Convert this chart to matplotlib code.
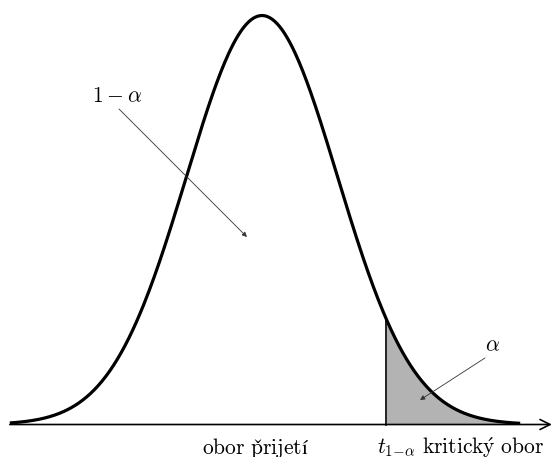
import numpy as np
import matplotlib.pyplot as plt

plt.rcParams['mathtext.fontset'] = 'cm'
plt.rcParams['font.family'] = ['cmr10', 'STIXGeneral']

# standard normal density, right tail critical value
z_lo, z_hi = -3.34, 3.42
z_crit = 1.645
lbl_accept = r'$\mathrm{obor\ p\check{r}ijetí}$'
lbl_crit = r'$\mathrm{kritick\acute{y}\ obor}$'
lbl_inner = r'$1-\alpha$'
lbl_tail = r'$\alpha$'
lbl_t = r'$t_{1\!-\!\alpha}$'


def pdf(z):
    return np.exp(-z**2 / 2) / np.sqrt(2 * np.pi)


z = np.linspace(z_lo, z_hi, 400)
zt = np.linspace(z_crit, z_hi, 200)

fig = plt.figure(figsize=(5.54, 4.57), dpi=100)
ax = fig.add_axes([0, 0, 1, 1])
ax.set_xlim(-3.470, 3.868)
ax.set_ylim(-0.0317, 0.4141)
ax.axis('off')

ax.fill_between(zt, 0, pdf(zt), color='#b3b3b3', lw=0)
ax.plot([z_crit, z_crit], [0, pdf(z_crit)], color='black', lw=1.2)
ax.plot(z, pdf(z), color='black', lw=2.3, solid_capstyle='butt')

# horizontal axis with arrow
ax.annotate('', xy=(3.84, 0), xytext=(z_lo, 0),
            arrowprops=dict(arrowstyle='->', lw=1.2, color='black',
                            mutation_scale=18, shrinkA=0, shrinkB=0))

fs = 15.5
ax.text(-0.093, -0.0285, lbl_accept, ha='center', va='baseline', fontsize=fs)
ax.text(1.523, -0.0285, lbl_t, ha='left', va='baseline', fontsize=fs)
ax.text(2.119, -0.0285, lbl_crit, ha='left', va='baseline', fontsize=fs)

ax.text(-1.92, 0.320, lbl_inner, ha='center', va='center', fontsize=fs)
ax.annotate('', xy=(-0.199, 0.1829), xytext=(-1.894, 0.3078),
            arrowprops=dict(arrowstyle='-|>', lw=0.6, color='#333333',
                            mutation_scale=7, shrinkA=0, shrinkB=0))

ax.text(3.06, 0.0776, lbl_tail, ha='center', va='center', fontsize=fs)
ax.annotate('', xy=(2.093, 0.0239), xytext=(2.954, 0.0649),
            arrowprops=dict(arrowstyle='-|>', lw=0.6, color='#333333',
                            mutation_scale=7, shrinkA=0, shrinkB=0))

fig.savefig('out.png', dpi=100)
